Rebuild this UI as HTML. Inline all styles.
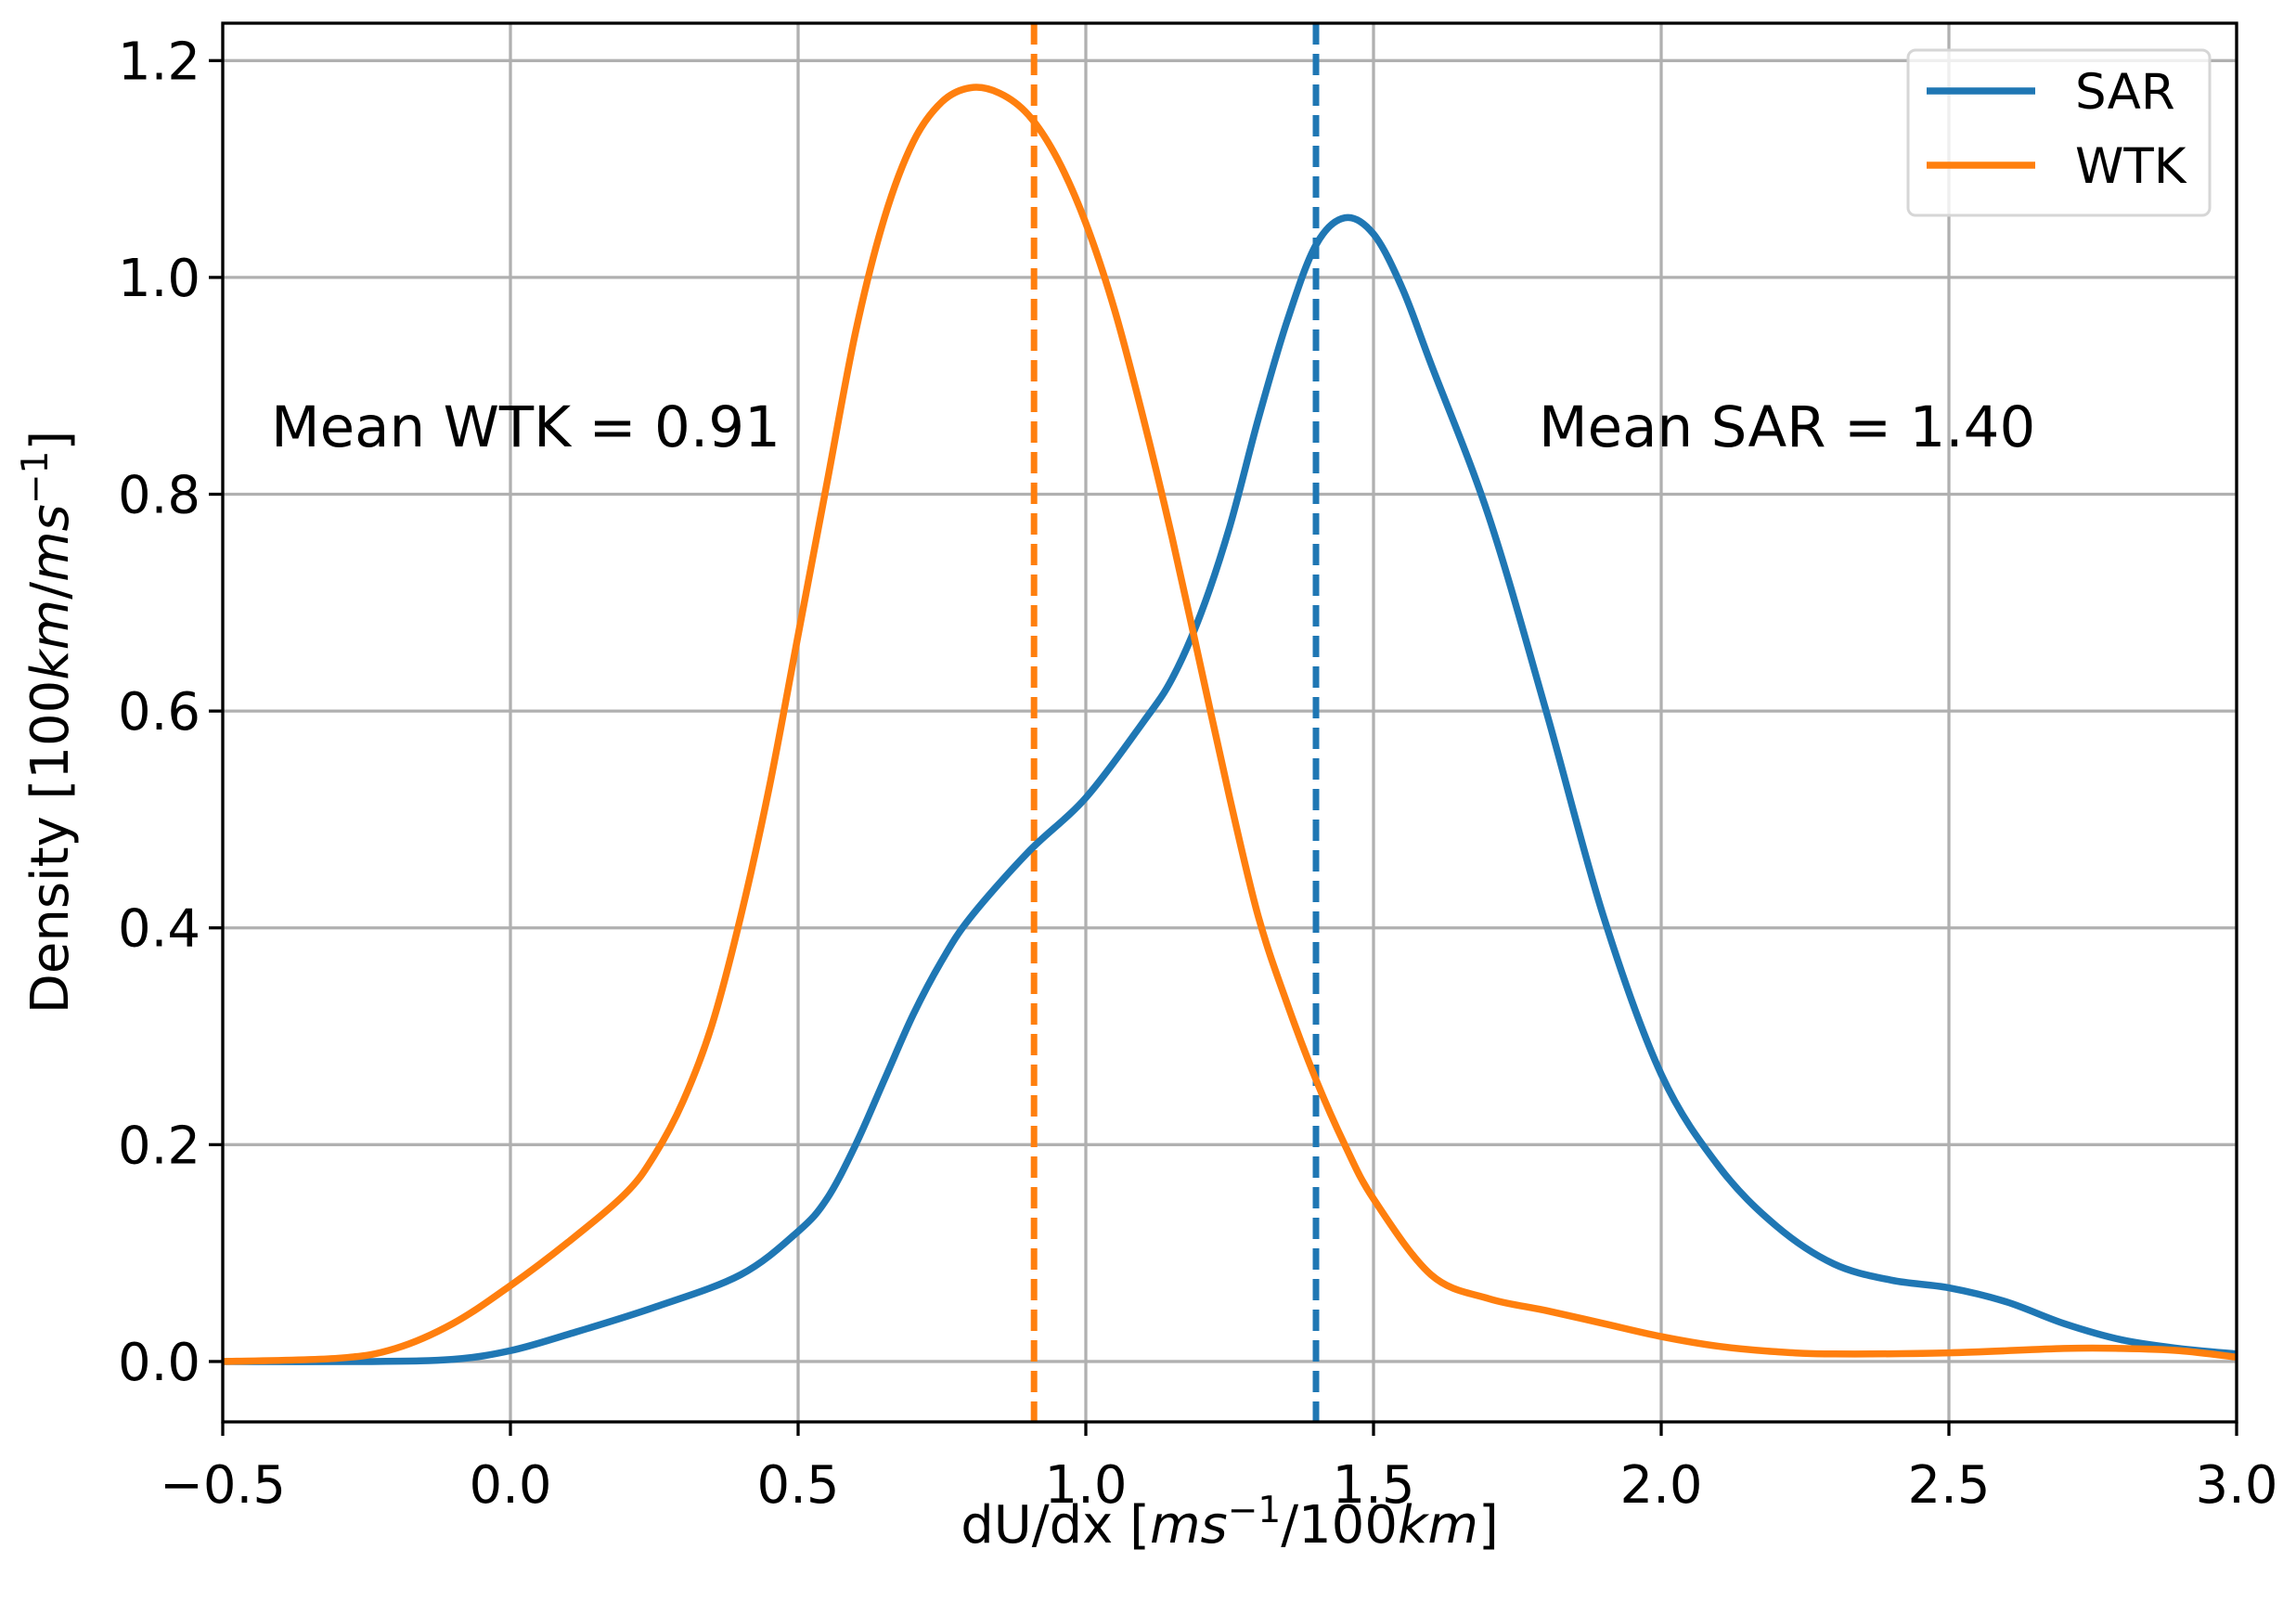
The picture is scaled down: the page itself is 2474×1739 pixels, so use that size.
<!DOCTYPE html>
<html><head><meta charset="utf-8"><style>
html,body{margin:0;padding:0;background:#fff}
svg text{font-family:"DejaVu Sans","Liberation Sans",sans-serif;fill:#000}
</style></head><body>
<svg id="chart" width="2474" height="1734" viewBox="0 0 2474 1734" xmlns="http://www.w3.org/2000/svg">
<rect width="2474" height="1734" fill="#fff"/>
<g id="grid"></g>
<g id="series"></g>
<g id="axes"></g>
<text x="292" y="481" font-size="61">Mean WTK = 0.91</text>
<text x="1658" y="481" font-size="61">Mean SAR = 1.40</text>
<g>
<rect x="2056" y="54" width="325" height="178" rx="8" fill="#fff" fill-opacity="0.8" stroke="#d6d6d6" stroke-width="3"/>
<line x1="2076" y1="98" x2="2193" y2="98" stroke="#1f77b4" stroke-width="7.5"/>
<text x="2236" y="117" font-size="53">SAR</text>
<line x1="2076" y1="178" x2="2193" y2="178" stroke="#ff7f0e" stroke-width="7.5"/>
<text x="2236" y="197" font-size="53">WTK</text>
</g>
<text x="1325" y="1662" font-size="56" text-anchor="middle">dU/dx [<tspan font-style="italic">ms</tspan><tspan font-size="39" dy="-22">−1</tspan><tspan dy="22">/100</tspan><tspan font-style="italic">km</tspan>]</text>
<text transform="translate(73,778) rotate(-90)" font-size="56" text-anchor="middle">Density [100<tspan font-style="italic">km</tspan>/<tspan font-style="italic">ms</tspan><tspan font-size="39" dy="-22">−1</tspan><tspan dy="22">]</tspan></text>
</svg>
<script>
const xTicks=[-0.5,0.0,0.5,1.0,1.5,2.0,2.5,3.0];
const xTickLabels=["−0.5","0.0","0.5","1.0","1.5","2.0","2.5","3.0"];
const yTicks=[0.0,0.2,0.4,0.6,0.8,1.0,1.2];
const yTickLabels=["0.0","0.2","0.4","0.6","0.8","1.0","1.2"];
const sarX=[-0.5,-0.25,-0.1,0,0.1,0.25,0.4,0.5,0.55,0.6,0.65,0.7,0.75,0.8,0.9,1.0,1.1,1.15,1.2,1.25,1.3,1.35,1.4,1.45,1.5,1.55,1.6,1.7,1.8,1.9,2.0,2.1,2.2,2.3,2.4,2.5,2.6,2.7,2.8,2.9,3.0];
const sarY=[0,0,0.002,0.01,0.025,0.05,0.08,0.12,0.15,0.2,0.26,0.32,0.37,0.41,0.47,0.52,0.59,0.63,0.69,0.77,0.87,0.96,1.03,1.055,1.04,0.99,0.92,0.78,0.6,0.41,0.265,0.18,0.125,0.09,0.075,0.068,0.055,0.035,0.02,0.012,0.007];
const wtkX=[-0.5,-0.3,-0.2,-0.1,0,0.1,0.2,0.25,0.3,0.35,0.4,0.45,0.5,0.55,0.6,0.65,0.7,0.75,0.8,0.85,0.9,0.95,1.0,1.05,1.1,1.15,1.2,1.25,1.3,1.35,1.4,1.45,1.5,1.6,1.7,1.8,1.9,2.0,2.1,2.2,2.3,2.5,2.7,2.8,2.9,3.0];
const wtkY=[0,0.003,0.012,0.035,0.07,0.11,0.155,0.19,0.24,0.31,0.41,0.53,0.67,0.81,0.95,1.055,1.125,1.162,1.175,1.17,1.15,1.11,1.05,0.97,0.87,0.76,0.64,0.52,0.41,0.33,0.26,0.2,0.15,0.08,0.058,0.047,0.035,0.023,0.014,0.009,0.007,0.008,0.012,0.012,0.01,0.004];
const meanWTK=0.91, meanSAR=1.40;

const L=240,R=2410,T=25,B=1532;
const X0=-0.5,X1=3.0,Y0=-0.0557,Y1=1.2345;
const sx=v=>L+(v-X0)/(X1-X0)*(R-L);
const sy=v=>B-(v-Y0)/(Y1-Y0)*(B-T);
const NS="http://www.w3.org/2000/svg";
function mk(tag,attrs,parent){const e=document.createElementNS(NS,tag);for(const k in attrs)e.setAttribute(k,attrs[k]);parent.appendChild(e);return e;}
const grid=document.getElementById('grid'),axes=document.getElementById('axes'),series=document.getElementById('series');
xTicks.forEach((v,i)=>{
  const g=mk('line',{x1:sx(v),x2:sx(v),y1:T,y2:B,stroke:'#b0b0b0','stroke-width':3.3},grid);
  
  
  const t=mk('line',{x1:sx(v),x2:sx(v),y1:B,y2:B+15,stroke:'#000','stroke-width':3.3},axes);
  
  
  const l=mk('text',{x:sx(v),y:B+87,'font-size':56,'text-anchor':'middle'},axes);l.textContent=xTickLabels[i];
  
  
});
yTicks.forEach((v,i)=>{
  const g=mk('line',{x1:L,x2:R,y1:sy(v),y2:sy(v),stroke:'#b0b0b0','stroke-width':3.3},grid);
  
  
  const t=mk('line',{x1:L-15,x2:L,y1:sy(v),y2:sy(v),stroke:'#000','stroke-width':3.3},axes);
  
  
  const l=mk('text',{x:L-24,y:sy(v)+20,'font-size':56,'text-anchor':'end'},axes);l.textContent=yTickLabels[i];
  
  
});
const frame=mk('rect',{x:L,y:T,width:R-L,height:B-T,fill:'none',stroke:'#000','stroke-width':3.3},axes);


function smooth(xs,ys){
  const p=xs.map((x,i)=>[sx(x),sy(ys[i])]);
  let d='M'+p[0][0]+','+p[0][1];
  for(let i=0;i<p.length-1;i++){
    const p0=p[i-1]||p[i],p1=p[i],p2=p[i+1],p3=p[i+2]||p2;
    const c1=[p1[0]+(p2[0]-p0[0])/6,p1[1]+(p2[1]-p0[1])/6];
    const c2=[p2[0]-(p3[0]-p1[0])/6,p2[1]-(p3[1]-p1[1])/6];
    d+=' C'+c1+' '+c2+' '+p2;
  }
  return d;
}
const mw=mk('line',{x1:sx(meanWTK),x2:sx(meanWTK),y1:T,y2:B,stroke:'#ff7f0e','stroke-width':7,'stroke-dasharray':'23 10'},series);


const ms=mk('line',{x1:sx(meanSAR),x2:sx(meanSAR),y1:T,y2:B,stroke:'#1f77b4','stroke-width':7,'stroke-dasharray':'23 10'},series);


const ps=mk('path',{d:smooth(sarX,sarY),fill:'none',stroke:'#1f77b4','stroke-width':7.5,'stroke-linejoin':'round'},series);


const pw=mk('path',{d:smooth(wtkX,wtkY),fill:'none',stroke:'#ff7f0e','stroke-width':7.5,'stroke-linejoin':'round'},series);


</script>
</body></html>
